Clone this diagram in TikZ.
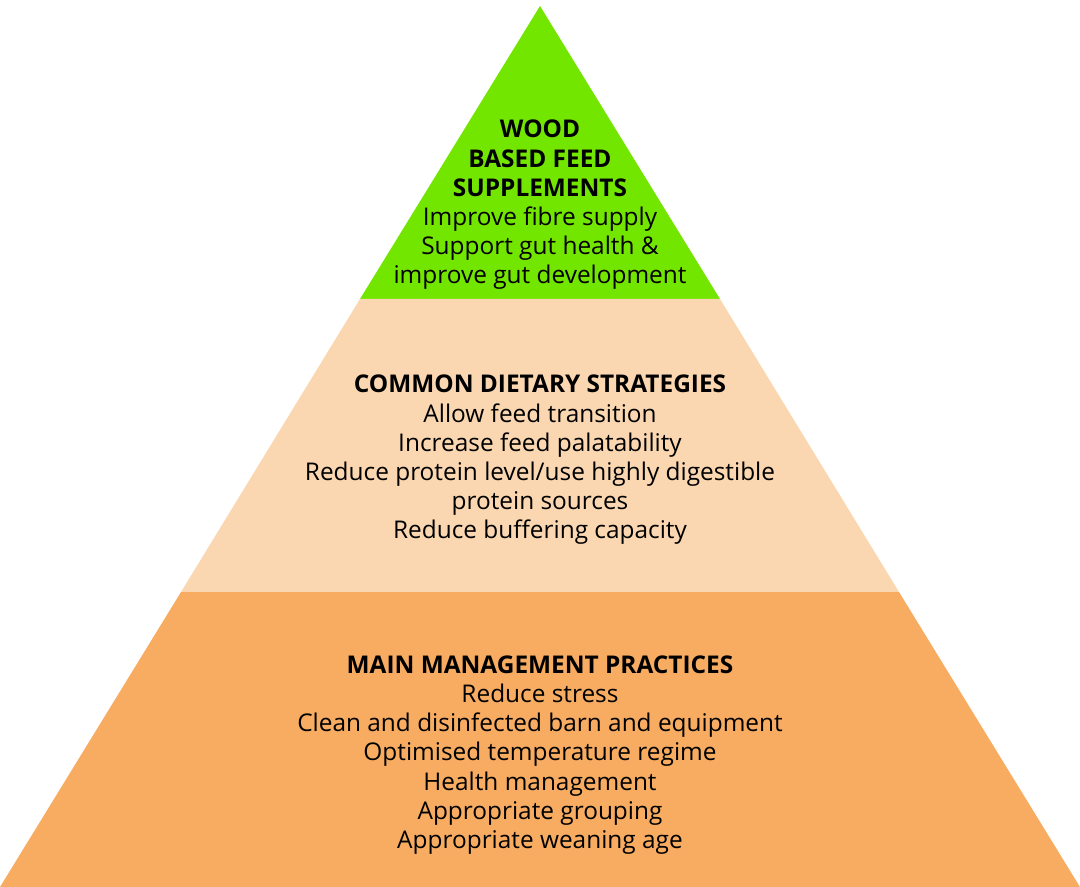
\documentclass[tikz,border=0pt]{standalone}
\usepackage{fontspec}
\setmainfont{Open Sans}
\usetikzlibrary{positioning}
\definecolor{woodgreen}{RGB}{115,230,0}
\definecolor{dietpeach}{RGB}{250,215,176}
\definecolor{mgmtorange}{RGB}{247,172,98}
\tikzset{
  tiertext/.style = {align=center, text=black, inner sep=0pt,
                     font=\fontsize{12.2}{14.6}\selectfont},
}

\begin{document}
\begin{tikzpicture}[x=0.5pt, y=-0.5pt]
  \useasboundingbox (0,0) rectangle (1080,887);
  % pyramid corners
  \coordinate (apex) at (540,6);
  \coordinate (gl) at (360,299);
  \coordinate (gr) at (720,299);
  \coordinate (dl) at (181,592);
  \coordinate (dr) at (899,592);
  \coordinate (ml) at (0,887);
  \coordinate (mr) at (1080,887);
  % tiers
  \fill[woodgreen] (apex) -- (gr) -- (gl) -- cycle;
  \fill[dietpeach] (gl) -- (gr) -- (dr) -- (dl) -- cycle;
  \fill[mgmtorange] (dl) -- (dr) -- (mr) -- (ml) -- cycle;
  % texts
  \node[tiertext] (wood) at (540,205) {
    \textbf{WOOD}\\
    \textbf{BASED FEED}\\
    \textbf{SUPPLEMENTS}\\
    Improve fibre supply\\
    Support gut health \&\\
    improve gut development};
  \node[tiertext] (diet) at (540,460) {
    \textbf{COMMON DIETARY STRATEGIES}\\
    Allow feed transition\\
    Increase feed palatability\\
    Reduce protein level/use highly digestible\\
    protein sources\\
    Reduce buffering capacity};
  \node[tiertext] (mgmt) at (540,755) {
    \textbf{MAIN MANAGEMENT PRACTICES}\\
    Reduce stress\\
    Clean and disinfected barn and equipment\\
    Optimised temperature regime\\
    Health management\\
    Appropriate grouping\\
    Appropriate weaning age};
\end{tikzpicture}
\end{document}
